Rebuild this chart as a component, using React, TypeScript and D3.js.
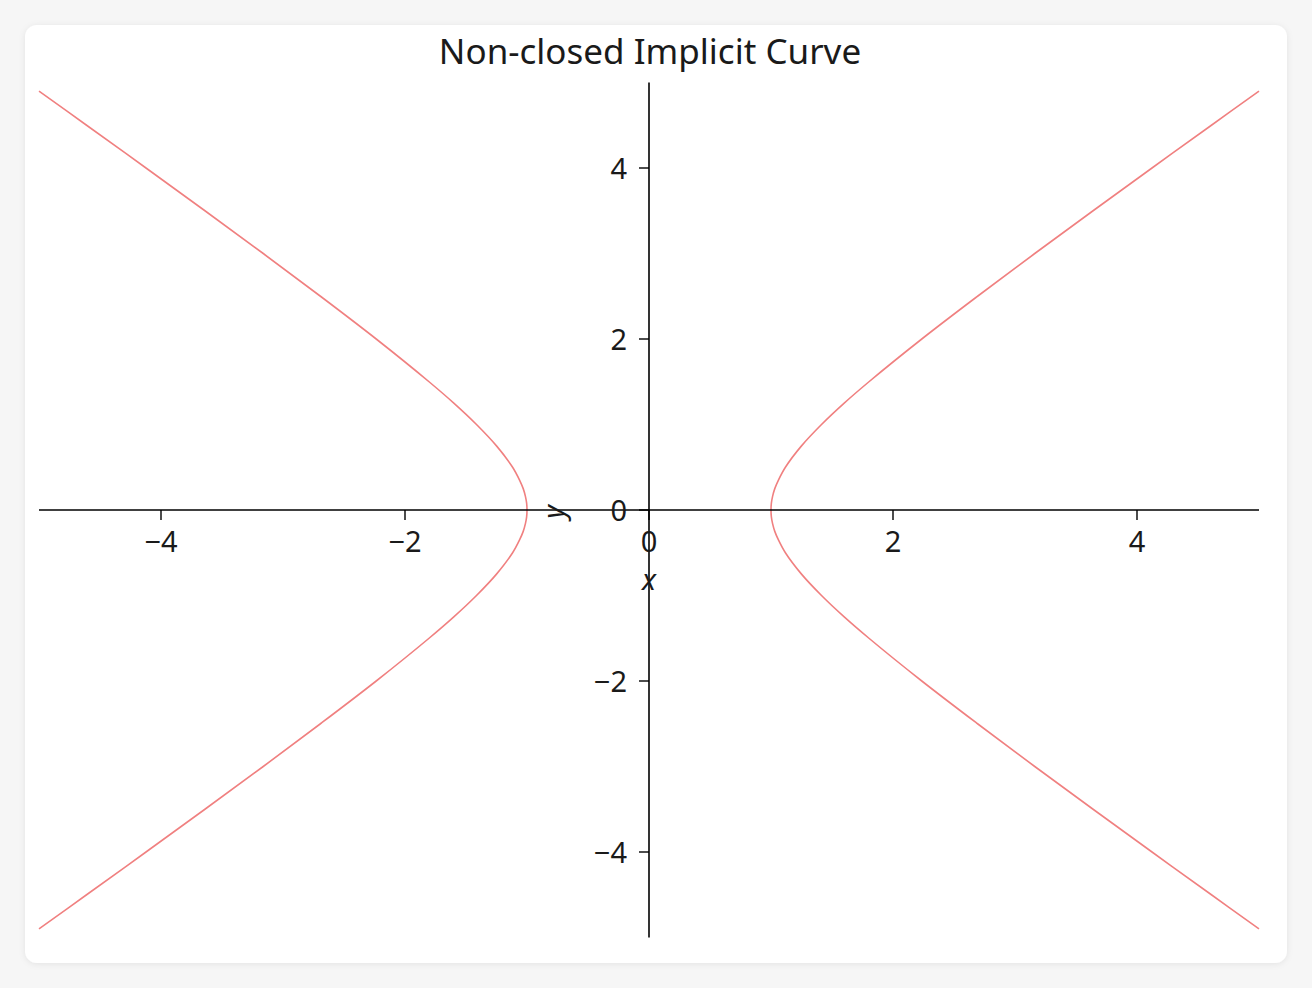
import { useEffect, useRef } from "react";
import * as d3 from "d3";

const quarterX = [1.0, 1.003, 1.013, 1.031, 1.061, 1.118, 1.25, 1.414, 1.6, 1.803, 2.236, 2.693, 3.162, 3.64, 4.123, 4.61, 5.0];
const quarterY = [0.0, 0.08, 0.16, 0.25, 0.35, 0.5, 0.75, 1.0, 1.25, 1.5, 2.0, 2.5, 3.0, 3.5, 4.0, 4.5, 4.9];

const xTicks = [-4, -2, 0, 2, 4];
const yTicks = [-4, -2, 0, 2, 4];
const domain: [number, number] = [-5, 5];

const W = 1312;
const H = 988;

export default function App() {
  const ref = useRef<SVGSVGElement>(null);

  useEffect(() => {
    if (!ref.current) return;
    const svg = d3.select(ref.current);
    svg.selectAll("*").remove();

    const defs = svg.append("defs");
    const f = defs.append("filter").attr("id", "shadow").attr("x", "-5%").attr("y", "-5%").attr("width", "110%").attr("height", "110%");
    f.append("feDropShadow").attr("dx", 0).attr("dy", 1).attr("stdDeviation", 3).attr("flood-color", "#000").attr("flood-opacity", 0.08);

    svg.append("rect").attr("width", W).attr("height", H).attr("fill", "#f6f6f6");
    svg
      .append("rect")
      .attr("x", 25)
      .attr("y", 25)
      .attr("width", 1262)
      .attr("height", 938)
      .attr("rx", 12)
      .attr("fill", "#fff")
      .attr("filter", "url(#shadow)");

    const x = d3.scaleLinear().domain(domain).range([39, 1259]);
    const y = d3.scaleLinear().domain(domain).range([937.5, 82.5]);
    const font = "'Noto Sans', sans-serif";

    // build the branches from the quarter by sign
    const right: [number, number][] = [];
    for (let i = quarterX.length - 1; i > 0; i--) right.push([quarterX[i], -quarterY[i]]);
    for (let i = 0; i < quarterX.length; i++) right.push([quarterX[i], quarterY[i]]);
    const left = right.map(([a, b]) => [-a, b] as [number, number]);

    const line = d3
      .line<[number, number]>()
      .x((d) => x(d[0]))
      .y((d) => y(d[1]))
      .curve(d3.curveCatmullRom.alpha(0.5));

    [right, left].forEach((pts) => {
      svg
        .append("path")
        .attr("d", line(pts))
        .attr("fill", "none")
        .attr("stroke", "#f08080")
        .attr("stroke-width", 1.6);
    });

    const axisColor = "#000";
    svg.append("line").attr("x1", x(-5)).attr("x2", x(5)).attr("y1", y(0)).attr("y2", y(0)).attr("stroke", axisColor).attr("stroke-width", 1.6);
    svg.append("line").attr("x1", x(0)).attr("x2", x(0)).attr("y1", y(5)).attr("y2", y(-5)).attr("stroke", axisColor).attr("stroke-width", 1.6);

    const fmt = (v: number) => (v < 0 ? "\u2212" + Math.abs(v) : String(v));

    xTicks.forEach((t) => {
      svg.append("line").attr("x1", x(t)).attr("x2", x(t)).attr("y1", y(0)).attr("y2", y(0) + 10).attr("stroke", axisColor).attr("stroke-width", 1.4);
      svg
        .append("text")
        .attr("x", x(t))
        .attr("y", 552)
        .attr("text-anchor", "middle")
        .attr("font-family", font)
        .attr("font-size", 29)
        .attr("fill", "#1a1a1a")
        .text(fmt(t));
    });

    yTicks.forEach((t) => {
      svg.append("line").attr("x1", x(0) - 10).attr("x2", x(0)).attr("y1", y(t)).attr("y2", y(t)).attr("stroke", axisColor).attr("stroke-width", 1.4);
      svg
        .append("text")
        .attr("x", 627)
        .attr("y", y(t) + 10.5)
        .attr("text-anchor", "end")
        .attr("font-family", font)
        .attr("font-size", 29)
        .attr("fill", "#1a1a1a")
        .text(fmt(t));
    });

    // axis labels
    svg
      .append("text")
      .attr("x", x(0))
      .attr("y", 590)
      .attr("text-anchor", "middle")
      .attr("font-family", font)
      .attr("font-style", "italic")
      .attr("font-size", 29)
      .attr("fill", "#1a1a1a")
      .text("x");
    svg
      .append("text")
      .attr("transform", `translate(564, 512) rotate(-90)`)
      .attr("text-anchor", "middle")
      .attr("font-family", font)
      .attr("font-style", "italic")
      .attr("font-size", 29)
      .attr("fill", "#1a1a1a")
      .text("y");

    svg
      .append("text")
      .attr("x", 650)
      .attr("y", 64)
      .attr("text-anchor", "middle")
      .attr("font-family", font)
      .attr("font-size", 35)
      .attr("fill", "#1a1a1a")
      .text("Non-closed Implicit Curve");
  }, []);

  return (
    <div style={{ position: "absolute", left: 0, top: 0, width: W, height: H }}>
      <svg ref={ref} width={W} height={H} style={{ display: "block" }} />
    </div>
  );
}
